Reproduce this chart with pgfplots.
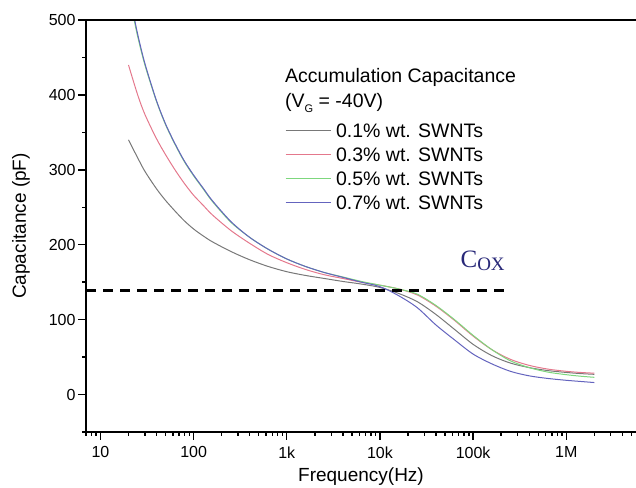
\documentclass[border=0pt]{standalone}
\usepackage{fontspec}
\setmainfont{Liberation Sans}
\newfontfamily\seriffont{Liberation Serif}
\usepackage{pgfplots}
\pgfplotsset{compat=1.18}
\definecolor{cgrey}{RGB}{120,120,120}
\definecolor{cred}{RGB}{228,120,140}
\definecolor{cgreen}{RGB}{125,215,125}
\definecolor{cblue}{RGB}{100,100,190}
\definecolor{cnavy}{RGB}{40,40,120}
\begin{document}
\begin{tikzpicture}
\begin{axis}[
  scale only axis, width=550pt, height=412pt,
  xmode=log, xmin=7, xmax=5.6e6, ymin=-50, ymax=500,
  axis lines*=left, axis line style={-, line width=2.6pt},
  tick align=outside, major tick length=8pt, minor tick length=4pt,
  tick style={line width=1.4pt, black},
  xtick={10,100,1000,10000,100000,1000000},
  xticklabels={10,100,1k,10k,100k,1M},
  minor xtick={7,8,9,20,30,40,50,60,70,80,90,200,300,400,500,600,700,800,900,2000,3000,4000,5000,6000,7000,8000,9000,20000,30000,40000,50000,60000,70000,80000,90000,200000,300000,400000,500000,600000,700000,800000,900000,2000000,3000000,4000000,5000000},
  ytick={0,100,200,300,400,500},
  minor ytick={-50,50,150,250,350,450},
  /pgf/number format/assume math mode=true,
  ticklabel style={font=\fontsize{16}{19}\selectfont},
  xticklabel style={yshift=-3pt},
  yticklabel style={xshift=1pt},
  label style={font=\fontsize{19}{22}\selectfont},
  xlabel={Frequency(Hz)}, ylabel={Capacitance (pF)},
  xlabel style={yshift=-3pt},
  ylabel style={yshift=12pt},
  legend style={draw=none, fill=none, at={(rel axis cs:0.362,0.7597)}, anchor=north west,
    inner sep=0pt, outer sep=0pt, row sep=0pt, column sep=5pt,
    font=\fontsize{19.5}{23}\selectfont,
    nodes={inner sep=0pt, text height=19pt, text depth=5pt}},
  legend cell align=left,
  legend image code/.code={\draw[#1] (0pt,0pt) -- (45pt,0pt);},
  clip mode=individual,
]
\addplot[cgrey, line width=1pt, smooth] coordinates {(20,340) (25.1,316) (30,298) (39.8,275) (50.1,259) (63.1,245) (79.4,232) (100,221) (125.9,212) (158.5,204) (251.2,191) (398.1,180) (631,171) (1000,164) (1585,159) (2512,155) (3981,151) (6310,147.5) (10000,143) (15849,135) (25119,124) (39811,107) (63096,87) (100000,67) (158489,52) (251189,42) (398107,36) (630957,32) (1e6,29.5) (1.4125e6,28) (2e6,27)};
\addlegendentry{0.1\% wt. SWNTs}
\addplot[cred, line width=1pt, smooth] coordinates {(20,440) (25.1,400) (30,374) (39.8,342) (50.1,320) (63.1,300) (79.4,282) (100,266) (125.9,253) (158.5,240) (251.2,219) (398.1,202) (631,187) (1000,176) (1585,167) (2512,160) (3981,155) (6310,150) (10000,146) (15849,141) (25119,133) (39811,118) (63096,99) (100000,78) (158489,60) (251189,47) (398107,39) (630957,34) (1e6,31) (1.4125e6,29.5) (2e6,28.5)};
\addlegendentry{0.3\% wt. SWNTs}
\addplot[cgreen, line width=1pt, smooth] coordinates {(20,540) (22.6,505) (25.1,478) (30,440) (39.8,392) (50.1,360) (63.1,334) (79.4,311) (100,292) (125.9,275) (158.5,258) (251.2,230) (398.1,210) (631,194) (1000,181) (1585,171) (2512,163) (3981,157) (6310,151) (10000,146) (15849,141) (25119,134) (39811,119) (63096,100) (100000,79) (158489,60) (251189,45) (398107,36) (630957,30) (1e6,26.5) (1.4125e6,24.5) (2e6,23)};
\addlegendentry{0.5\% wt. SWNTs}
\addplot[cblue, line width=1pt, smooth] coordinates {(20,545) (22.6,509) (25.1,481) (30,442) (39.8,393) (50.1,361) (63.1,335) (79.4,312) (100,293) (125.9,276) (158.5,259) (251.2,231) (398.1,210) (631,194) (1000,181) (1585,171) (2512,163) (3981,156.5) (6310,150) (10000,144) (15849,132) (25119,116) (39811,93) (63096,73) (100000,54) (158489,41) (251189,31) (398107,25) (630957,21.5) (1e6,19) (1.4125e6,17.5) (2e6,16)};
\addlegendentry{0.7\% wt. SWNTs}
\addplot[black, line width=2.5pt, dash pattern=on 10pt off 7pt, forget plot] coordinates {(7,139) (2.36e5,139)};
\draw[line width=2.6pt] (rel axis cs:0,1) -- (rel axis cs:1,1);
\node[anchor=base west, inner sep=0pt, font=\fontsize{19.5}{23}\selectfont] at (rel axis cs:0.3618,0.8471) {Accumulation Capacitance};
\node[anchor=base west, inner sep=0pt, font=\fontsize{19.5}{23}\selectfont] at (rel axis cs:0.3618,0.7888) {(V\raisebox{-5pt}{\fontsize{11}{11}\selectfont G} = -40V)};
\node[anchor=base west, inner sep=0pt, text=cnavy, font=\seriffont\fontsize{25}{27}\selectfont] at (axis cs:7.3e4,170) {C\raisebox{-3pt}{\fontsize{19}{20}\selectfont OX}};
\end{axis}
\pgfresetboundingbox
\path ([shift={(-86pt,-56pt)}]current axis.south west) rectangle ([shift={(0pt,20pt)}]current axis.north east);
\end{tikzpicture}
\end{document}
